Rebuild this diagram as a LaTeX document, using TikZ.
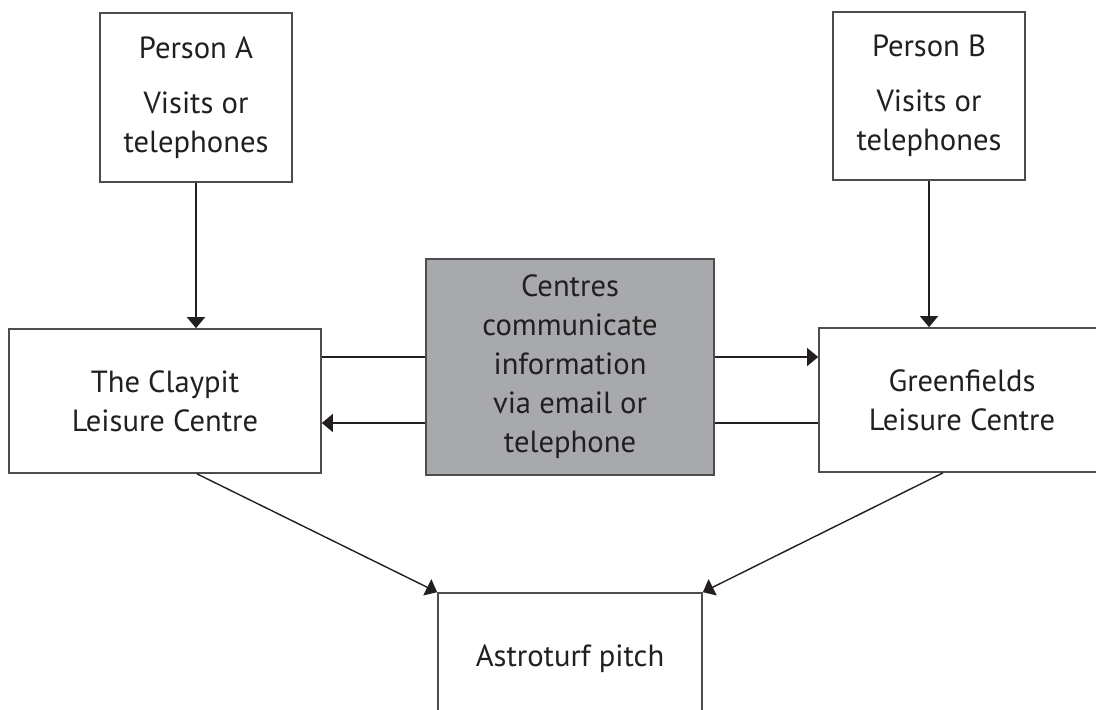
\documentclass[tikz,border=0pt]{standalone}
\usepackage{fontspec}
\setmainfont{PT Sans}
\usetikzlibrary{arrows.meta}
\definecolor{ink}{HTML}{231F20}
\definecolor{edgec}{HTML}{4D4D4F}
\definecolor{fillg}{HTML}{A7A9AC}
\begin{document}
\begin{tikzpicture}[x=0.5pt,y=-0.5pt,
  box/.style={draw=edgec, line width=0.85pt, text=ink, align=center, inner sep=0pt,
    font=\fontsize{15.3}{19.5}\selectfont},
  conn/.style={draw=ink, line width=0.7pt},
  arr/.style={conn, -{Triangle[width=9pt,length=5.5pt]}}]
\useasboundingbox (0,0) rectangle (1096,709);
\node[box, minimum width=96pt, minimum height=84.5pt] (pa) at (196,97.5) {Person A\\[8pt]Visits or\\telephones};
\node[box, minimum width=96pt, minimum height=84pt] (pb) at (929,96) {Person B\\[8pt]Visits or\\telephones};
\node[box, minimum width=156pt, minimum height=72pt] (cl) at (165,401) {The Claypit\\Leisure Centre};
\node[box, minimum width=143pt, minimum height=72pt] (gf) at (962,400) {Greenfields\\Leisure Centre};
\node[box, fill=fillg, minimum width=144pt, minimum height=108pt] (cc) at (570,367) {Centres\\communicate\\information\\via email or\\telephone};
\node[box, minimum width=132pt, minimum height=66pt] (at) at (570,659) {Astroturf pitch};
\coordinate (u) at (0,357);
\coordinate (d) at (0,423);
\draw[arr] (pa.south) -- (pa.south |- cl.north);
\draw[arr] (pb.south) -- (pb.south |- gf.north);
\draw[conn] (cc.west |- u) -- (cl.east |- u);
\draw[arr] (cc.west |- d) -- (cl.east |- d);
\draw[arr] (cc.east |- u) -- (gf.west |- u);
\draw[conn] (cc.east |- d) -- (gf.west |- d);
\draw[arr] ([xshift=16pt]cl.south) -- (at.north west);
\draw[arr] ([xshift=-9.5pt]gf.south) -- (at.north east);
\end{tikzpicture}
\end{document}
